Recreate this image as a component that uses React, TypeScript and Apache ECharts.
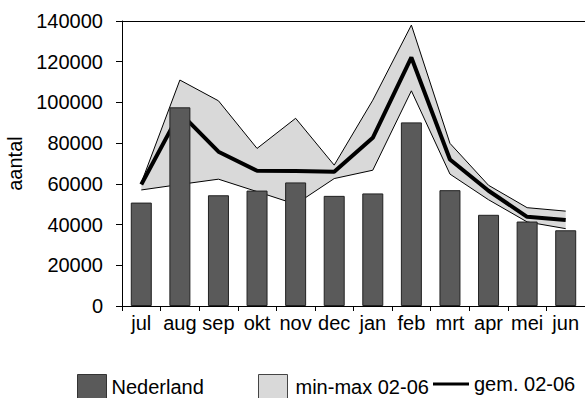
import React, { useEffect, useRef } from "react";
import * as echarts from "echarts";

const categories = ["jul", "aug", "sep", "okt", "nov", "dec", "jan", "feb", "mrt", "apr", "mei", "jun"];
const nederland = [50800, 97600, 54400, 56700, 60700, 54100, 55300, 90200, 56900, 44800, 41500, 37200];
const gemiddeld = [59700, 95000, 75800, 66400, 66300, 66000, 82600, 122100, 72000, 56600, 43800, 42200];
const maxValues = [60500, 111000, 100800, 77400, 92200, 69200, 101100, 138000, 79900, 59300, 48300, 46600];
const minValues = [57000, 59700, 62300, 56200, 50000, 62600, 66700, 105700, 64800, 52200, 41300, 38000];
const yTicks = { min: 0, max: 140000, interval: 20000 };

const FONT = "'Liberation Sans', Arial, sans-serif";

export default function App() {
  const ref = useRef<HTMLDivElement>(null);

  useEffect(() => {
    if (!ref.current) return;
    const chart = echarts.init(ref.current, undefined, { renderer: "svg" });
    const bandWidth = maxValues.map((v, i) => v - minValues[i]);

    chart.setOption({
      animation: false,
      backgroundColor: "#ffffff",
      textStyle: { fontFamily: FONT, color: "#000" },
      grid: {
        left: 122,
        right: 0,
        top: 21,
        bottom: 92,
        containLabel: false,
        outerBoundsMode: "none",
      },
      legend: [
        {
          left: 77,
          top: 374,
          padding: 0,
          itemWidth: 29,
          itemHeight: 25,
          selectedMode: false,
          textStyle: { fontSize: 20, fontFamily: FONT, color: "#000" },
          data: [
            {
              name: "Nederland",
              icon: "rect",
              itemStyle: { color: "#5a5a5a", borderColor: "#333", borderWidth: 1 },
            },
          ],
        },
        {
          left: 258,
          top: 374,
          padding: 0,
          itemWidth: 29,
          itemHeight: 25,
          selectedMode: false,
          textStyle: { fontSize: 20, fontFamily: FONT, color: "#000", padding: [0, 0, 0, 3] },
          data: [
            {
              name: "min-max 02-06",
              icon: "rect",
              itemStyle: { color: "#d9d9d9", borderColor: "#444", borderWidth: 1 },
            },
          ],
        },
        {
          left: 433,
          top: 374,
          padding: 0,
          itemWidth: 36,
          itemHeight: 25,
          selectedMode: false,
          textStyle: { fontSize: 20, fontFamily: FONT, color: "#000" },
          data: [
            {
              name: "gem. 02-06",
              icon: "path://M0,11 L36,11 L36,14 L0,14 Z",
              itemStyle: { color: "#000", borderWidth: 0 },
            },
          ],
        },
      ],
      xAxis: [
        {
          type: "category",
          data: categories,
          boundaryGap: true,
          axisLine: { show: true, lineStyle: { color: "#000", width: 1 } },
          axisTick: { show: true, length: 5, lineStyle: { color: "#000" } },
          axisLabel: { fontSize: 20, color: "#000", fontFamily: FONT, margin: 7, interval: 0 },
          splitLine: { show: false },
        },
        {
          type: "category",
          data: categories,
          position: "top",
          axisLine: { show: true, onZero: false, lineStyle: { color: "#000", width: 1 } },
          axisTick: { show: false },
          axisLabel: { show: false },
          splitLine: { show: false },
        },
      ],
      yAxis: {
        type: "value",
        min: yTicks.min,
        max: yTicks.max,
        interval: yTicks.interval,
        name: "aantal",
        nameLocation: "middle",
        nameGap: 87,
        nameTextStyle: { fontSize: 20, color: "#000", fontFamily: FONT },
        axisLine: { show: true, lineStyle: { color: "#000", width: 1 } },
        axisTick: { show: true, length: 6, lineStyle: { color: "#000" } },
        axisLabel: {
          fontSize: 20,
          color: "#000",
          fontFamily: FONT,
          margin: 19,
          formatter: (v: number) => String(v),
        },
        splitLine: { show: false },
      },
      series: [
        {
          name: "min",
          type: "line",
          stack: "band",
          data: minValues,
          symbol: "none",
          silent: true,
          z: 3,
          lineStyle: { color: "#000", width: 1 },
        },
        {
          name: "min-max 02-06",
          type: "line",
          stack: "band",
          data: bandWidth,
          symbol: "none",
          silent: true,
          z: 2,
          lineStyle: { color: "#000", width: 1 },
          itemStyle: { color: "#d9d9d9" },
          areaStyle: { color: "#d9d9d9", opacity: 1 },
        },
        {
          name: "gem. 02-06",
          type: "line",
          data: gemiddeld,
          symbol: "none",
          z: 4,
          lineStyle: { color: "#000", width: 4 },
          itemStyle: { color: "#000" },
        },
        {
          name: "Nederland",
          type: "bar",
          data: nederland,
          barWidth: 21,
          z: 5,
          itemStyle: { color: "#5a5a5a", borderColor: "#222", borderWidth: 1 },
        },
      ],
    });

    return () => chart.dispose();
  }, []);

  return (
    <div
      ref={ref}
      style={{ position: "fixed", left: 0, top: 0, width: 585, height: 398 }}
    />
  );
}
